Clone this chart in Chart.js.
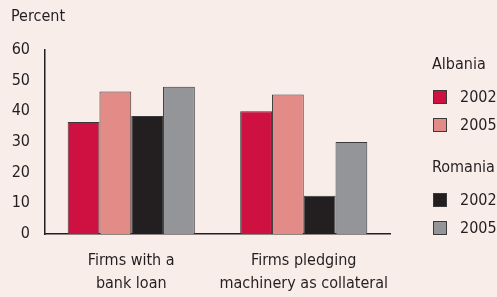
<!DOCTYPE html>
<html>
<head>
<meta charset="utf-8">
<script src="https://cdn.jsdelivr.net/npm/chart.js@4/dist/chart.umd.min.js"></script>
<style>
  html, body { margin: 0; padding: 0; background: #F9EDE9; }
  #wrap { width: 497px; height: 297px; }
</style>
</head>
<body>
<div id="wrap"><canvas id="chart" width="497" height="297"></canvas></div>
<script>
// data
const categories = [['Firms with a', 'bank loan'], ['Firms pledging', 'machinery as collateral']];
const albania2002 = [36.5, 40];
const albania2005 = [46.5, 45.5];
const romania2002 = [38.5, 12.5];
const romania2005 = [48, 30];
const yTicks = [0, 10, 20, 30, 40, 50, 60];

const FONT = '"Liberation Sans Narrow", "DejaVu Sans Condensed", sans-serif';
const INK = '#231F20';

// title + right-hand legend drawn on canvas
const extras = {
    id: 'extras',
    beforeDraw(chart) {
        const ctx = chart.ctx;
        ctx.save();
        ctx.fillStyle = '#F9EDE9';
        ctx.fillRect(0, 0, chart.width, chart.height);
        ctx.restore();
    },
    afterDraw(chart) {
        const ctx = chart.ctx;
        const ds = chart.data.datasets;
        ctx.save();
        ctx.fillStyle = INK;
        ctx.font = '16px ' + FONT;
        ctx.textBaseline = 'middle';
        ctx.fillText('Percent', 11, 17);

        const groups = [
            { name: 'Albania', y: 65, items: [ds[0], ds[1]] },
            { name: 'Romania', y: 168, items: [ds[2], ds[3]] }
        ];
        groups.forEach(g => {
            ctx.fillStyle = INK;
            ctx.fillText(g.name, 432, g.y);
            g.items.forEach((d, i) => {
                const by = g.y + 25 + i * 28;
                ctx.fillStyle = d.backgroundColor;
                ctx.fillRect(433, by, 14, 14);
                ctx.strokeStyle = '#3a3a3a';
                ctx.lineWidth = 1;
                ctx.strokeRect(433.5, by + 0.5, 13, 13);
                ctx.fillStyle = INK;
                ctx.fillText(d.label, 460, by + 8);
            });
        });
        ctx.restore();
    }
};

new Chart(document.getElementById('chart'), {
    type: 'bar',
    data: {
        labels: categories,
        datasets: [
            { label: '2002', data: albania2002, backgroundColor: '#CE1141' },
            { label: '2005', data: albania2005, backgroundColor: '#E38B86' },
            { label: '2002', data: romania2002, backgroundColor: '#231F20' },
            { label: '2005', data: romania2005, backgroundColor: '#939598' }
        ]
    },
    options: {
        responsive: false,
        animation: false,
        layout: { padding: { top: 50, right: 107, left: 0, bottom: 0 } },
        datasets: {
            bar: {
                barPercentage: 1,
                categoryPercentage: 0.737,
                borderColor: '#3a3a3a',
                borderWidth: 1
            }
        },
        plugins: {
            legend: { display: false },
            tooltip: { enabled: false }
        },
        scales: {
            x: {
                grid: { display: false, drawTicks: false },
                border: { display: true, color: INK, width: 1.5 },
                ticks: {
                    color: INK,
                    font: { family: FONT, size: 16, lineHeight: 1.4 },
                    padding: 16,
                    maxRotation: 0
                },
                afterFit(scale) { scale.height = 63; }
            },
            y: {
                min: 0,
                max: 60,
                grid: { display: false, drawTicks: false },
                border: { display: true, color: INK, width: 1.5 },
                afterBuildTicks(scale) { scale.ticks = yTicks.map(v => ({ value: v })); },
                ticks: {
                    color: INK,
                    font: { family: FONT, size: 16 },
                    padding: 15
                },
                afterFit(scale) { scale.width = 45; }
            }
        }
    },
    plugins: [extras]
});
</script>
</body>
</html>
